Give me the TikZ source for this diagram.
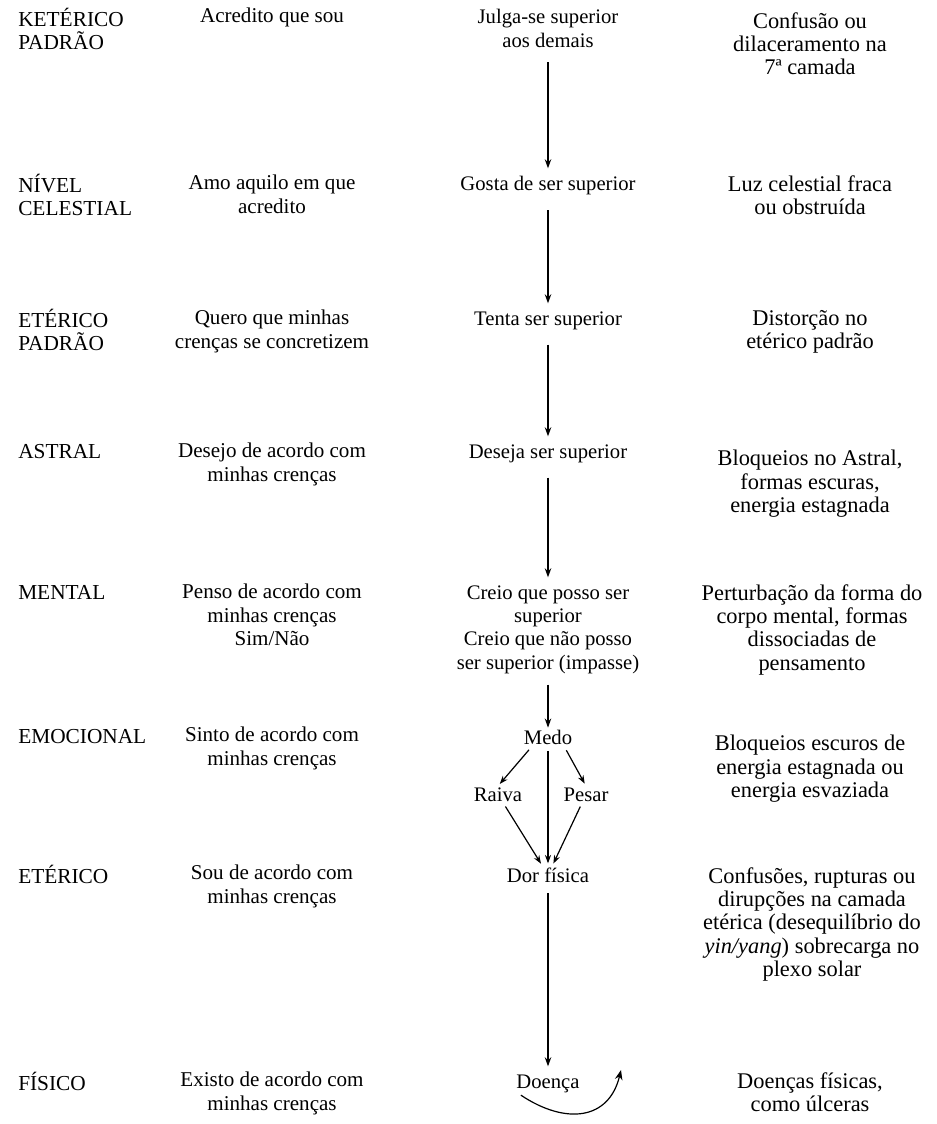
\documentclass[tikz,border=0pt]{standalone}
\usepackage{fontspec}
\setmainfont{Liberation Serif}
\usetikzlibrary{arrows.meta,positioning,calc}
\newcommand{\levelfont}{\fontsize{16}{17.5}\selectfont}
\newcommand{\beliefont}{\fontsize{15.8}{17.5}\selectfont}
\newcommand{\statefont}{\fontsize{15.5}{17.5}\selectfont}
\newcommand{\effectfont}{\fontsize{16.8}{17.5}\selectfont}
\tikzset{
  level/.style={anchor=north west,align=left,inner sep=0pt,font=\levelfont},
  belief/.style={anchor=north,align=center,inner sep=0pt,font=\beliefont},
  state/.style={anchor=north,align=center,inner sep=1pt,font=\statefont},
  effect/.style={anchor=north,align=center,inner sep=0pt,font=\effectfont},
  arrow/.style={-{Stealth[length=2.4mm,width=1.7mm]},line width=0.9pt,
    shorten <=10pt,shorten >=5pt},
  branch/.style={-{Stealth[length=2.2mm,width=1.6mm]},line width=0.9pt,
    shorten <=3pt,shorten >=2pt},
  swing/.style={-{Stealth[length=2.6mm,width=2mm]},line width=0.9pt}
}

\begin{document}
\begin{tikzpicture}[x=0.75pt,y=-0.75pt]
  \useasboundingbox (0,0) rectangle (936,1124);
  % levels
  \node[level] (k1) at (18,8) {KETÉRICO\\PADRÃO};
  \node[level] (k2) at (18,174) {NÍVEL\\CELESTIAL};
  \node[level] (k3) at (18,309) {ETÉRICO\\PADRÃO};
  \node[level] (k4) at (18,444) {ASTRAL};
  \node[level] (k5) at (18,585) {MENTAL};
  \node[level] (k6) at (18,729) {EMOCIONAL};
  \node[level] (k7) at (18,865) {ETÉRICO};
  \node[level] (k8) at (18,1072) {FÍSICO};
  % beliefs
  \node[belief] (b1) at (272,8) {Acredito que sou};
  \node[belief] (b2) at (272,175) {Amo aquilo em que\\acredito};
  \node[belief] (b3) at (272,310) {Quero que minhas\\crenças se concretizem};
  \node[belief] (b4) at (272,443) {Desejo de acordo com\\minhas crenças};
  \node[belief] (b5) at (272,584) {Penso de acordo com\\minhas crenças\\Sim/Não};
  \node[belief] (b6) at (272,727) {Sinto de acordo com\\minhas crenças};
  \node[belief] (b7) at (272,865) {Sou de acordo com\\minhas crenças};
  \node[belief] (b8) at (272,1072) {Existo de acordo com\\minhas crenças};
  % chain
  \node[state] (julga) at (548,8) {Julga-se superior\\aos demais};
  \node[state] (gosta) at (548,175) {Gosta de ser superior};
  \node[state] (tenta) at (548,310) {Tenta ser superior};
  \node[state] (deseja) at (548,443) {Deseja ser superior};
  \node[state] (creio) at (548,584) {Creio que posso ser\\superior\\Creio que não posso\\ser superior (impasse)};
  \node[state] (medo) at (548,729) {Medo};
  \node[state] (raiva) at (498,786) {Raiva};
  \node[state] (pesar) at (586,786) {Pesar};
  \node[state] (dor) at (548,866) {Dor física};
  \node[state] (doenca) at (548,1073) {Doença};
  % effects
  \node[effect] (e1) at (810,12) {Confusão ou\\dilaceramento na\\7ª camada};
  \node[effect] (e2) at (810,175) {Luz celestial fraca\\ou obstruída};
  \node[effect] (e3) at (810,310) {Distorção no\\etérico padrão};
  \node[effect] (e4) at (810,450) {Bloqueios no Astral,\\formas escuras,\\energia estagnada};
  \node[effect] (e5) at (812,584) {Perturbação da forma do\\corpo mental, formas\\dissociadas de\\pensamento};
  \node[effect] (e6) at (810,735) {Bloqueios escuros de\\energia estagnada ou\\energia esvaziada};
  \node[effect] (e7) at (812,867) {Confusões, rupturas ou\\dirupções na camada\\etérica (desequilíbrio do\\\textit{yin/yang}) sobrecarga no\\plexo solar};
  \node[effect] (e8) at (810,1072) {Doenças físicas,\\como úlceras};
  % connectors
  \draw[arrow] (julga) -- (gosta);
  \draw[arrow] (gosta) -- (tenta);
  \draw[arrow] (tenta) -- (deseja);
  \draw[arrow] (deseja) -- (creio);
  \draw[arrow,shorten <=7pt,shorten >=1pt] (creio) -- (medo);
  \draw[branch] ([xshift=7pt]medo.south west) -- (raiva.north);
  \draw[branch] ([xshift=-7pt]medo.south east) -- (pesar.north);
  \draw[branch] (medo) -- (dor);
  \draw[branch] (raiva) -- (dor);
  \draw[branch] (pesar) -- (dor);
  \draw[arrow,shorten <=7pt] (dor) -- (doenca);
  \coordinate (rise) at (621,1070);
  \draw[swing] ($(doenca.south west)+(6,1)$) .. controls +(45,30) and +(-12,50) .. (rise);
\end{tikzpicture}
\end{document}
